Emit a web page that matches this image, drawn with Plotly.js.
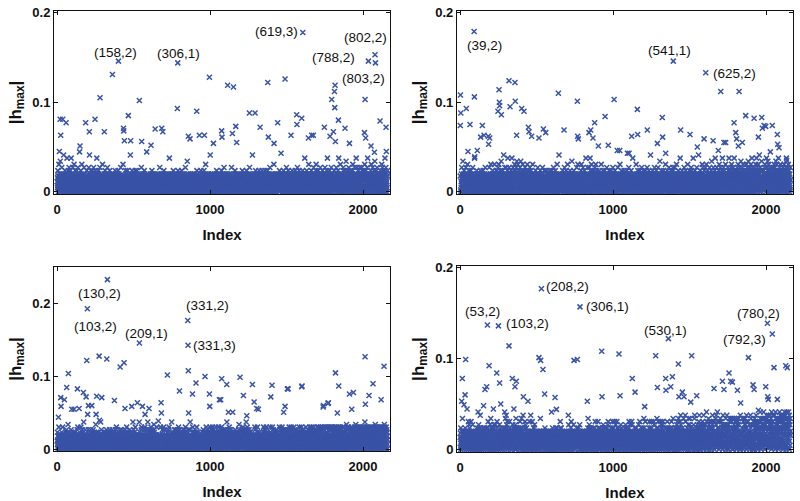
<!DOCTYPE html>
<html>
<head>
<meta charset="utf-8">
<script src="https://cdn.plot.ly/plotly-3.0.1.min.js"></script>
<style>html,body{margin:0;padding:0;background:#fff;}#chart{width:800px;height:501px;}</style>
</head>
<body>
<div id="chart"></div>
<script>
// ---------------- DATA ----------------
// Dense band of |h_max| per index, one character per index (base-36 code):
// '0'-'9' -> code * BAND_STEP ; 'a'.. -> HALO_BASE + (code - 9) * HALO_STEP
const BAND_STEP = 0.0022;
const HALO_BASE = 0.02;
const HALO_STEP = 0.0035;
const p1Band = [
"5273a814062c58371962d064827315b72904a56381f406925738a1604829",
"4617e0359281a73604b5827193a0546e281739058b26417093c5281064a7",
"2083517a6409381b2756048913g7250638a147296c30581742906381b527",
"7140629385162a047831590274b6381f52064719a083625147a8306295b1",
"3806152749a60382517e0496283157a04926183b5720641839052716c483",
"0527381469250a73816204958371b62048157306924a8153620748159360",
"6182047395817302649a581603749250817364a0258193706428153b0627",
"1739504826c0471825396048157a36920481735a062819473506182947f0",
"8250714639a8207153946082713549a8061937250a846139720581634701",
"4961028357b160847392058146937a029584631708254g19306827154360",
"2074815369308175624a90731684250936147082b5370419625803841795",
"5316092847b06251384720963815407269381a5042718630594162738019",
"0847261593702e4836105279483061724958306a21749360587129403652",
"6290514837a4179350628417360925814a730691528406371952048316b7",
"3518072649d1508327496013742506891352740613895720463185940271",
"9043716258106a8294730516283749106528374a1905638271940685326a",
"1726038495c26710483592617403859261047385f0163927485016392758",
"4180657293058147263950a1846370295148037265910382746158a04739",
"7359108462b93701528647019536281740b592638107429516830572946b",
"0638295174628305917463a0851729403681527049361825074193628405",
"2591740368a17042859631805274936105827a4931605827349061728b53",
"8406329157038162f47250693817025946183a702539481602739548160a",
"5172603948461027395a826013794850261739a5084617203958462a7031",
"3920481576b0538261749370285136490158c27340691528734061952847",
"6047193825718a0362549170836251904837265a193840726153094827b6",
"1853027649a3961850274316095827314806a2957318406925173084a629",
"7294610358b4706285193a0617482950372619480537a1629840517362e8",
"0516837294a8260153947286c1503947261830594a27186035927416b385",
"4739205186a1c9362708153924a7061835290746b1825396017428a35960",
"2685140937b5091726483a5093e1627408539162a7083519264b07381592",
"9370526184a6c80241937586b2093857162a4038e5917264805c31927406",
"1548372960b3a7150826493a0715d28493601748a5293b06817245930a61",
"6203918547a9c1406358271b9304627581e3094b72610583a49260731b58",
"3819054726b0a4918273605a293847c1506289a4730516b82e0461739258",
"7051682394a28c3705164b928407315a6920d417385062a935b184702695",
"4926307185b61a0395278c4016b293a758104627a3e90581b7246305928a"
].join('');
const p2Band = [
"83a1605294b7260381d5947203a8615729403b6815270946c28153740a96",
"2746193058a16273840591b73605284917e3052681493705a62819047352",
"5082736149027a5819364082715936a0482175936081b425730691846273",
"1639482705b8150629374c81602573948a0261739582c0417359260a8163",
"7a5206183b49c1725839604a2718d53092647a185203f9641728b3506197",
"4b8193605a27e4160835b27490c61835a27049e1825306b9471a2650c839",
"06a3718b295d40617c2853a90472618b3590d2741a6083519c27406a5813",
"9261b470385a2196083c7415269a04738261b590473a6182503947c06281",
"3750816294072a5183694072615b8304927516380429a1573608241957b3",
"6194037258a30617284953026a1749385160247395816a2703849516274a",
"2857160394b82614037592a06183749205c61837450291f3857026193845",
"0463729185a19403862750b8173625049a17385902c647182590361472a8",
"5318046297d628519407362a81593740268315970b46138250c739461825",
"7920584163a0c6318725904b27615390a482736501e968423715b0597382",
"4176b3052e97a16834c2590a7361f8249053a1872b6504c937182a065493",
"8035271649a52807193648c0271594836a02591736480a271953846025b7",
"1649382705846a3051927483065a1927384065b918273605942a81736052",
"3792510846b1736028495730c1846293578a1603948257016394a8205713",
"5028647193a40851627394b80621735498026a3719548206e17392046158",
"9614073528c2958371604a2957136048251a9837260415b92837450619a2",
"2480519637a71625390481b7365920481a5736902841f6730258149367a0",
"6137295804b18264075392a7160485392b06148275930d6172843905a627",
"0853714692a39506281746c0293571846a20593817460b28573916042a85",
"4271063859b6a2095718364b1927503846c19273580461a92705836149e2",
"7395842016a4817305296184b730295648a150837261940c6285173049a6",
"1526038794b0a6157283941e6027384519a36082714953b06281573940f8",
"5840731962a58307164295c84b7031652946a178203b59641c7830261a94",
"3062918475b0729185364a70d2961384750b29468301a75e294068137b52",
"9174520638a19c7205836b4172905a8361e4027395b816a4739021c65843",
"2605839147b4a1906e3752084a9162b385c0472961a35b08274e1963a057",
"8317402596a6b0827c3914a5628b7039461d5287a3096b4185c2739a0614",
"4925163780c3a8195b26047d1a3958260b7314a9c268530e71b4928a3605",
"0681b4729a5c31806e247a9b5316c0824a7f93105b62a84730d9152b6a47",
"7539a2061b84c5327a9106e4b2836a1d5709c4283b61a05g3927a1b84063",
"2148b9637a05c2718b4936a2d0571c84962b3a70e15842a9b0637c14582a",
"6a93507182b4a6195c3824a0716b9352e8461a7039b52c6184a7305921b6"
].join('');
const p3Band = [
"5a361528207c49531836207b958461a3092c7548016039927518400a6392",
"5b2706a9384d1627805937841682075b3968a14027597831694a0295768a",
"1847396302b5186c4279203518846902073c5198640b2a7361950e827134",
"7260b958341460628517931b408690251738840b961205073a89164b2805",
"3958a2671047d9361a82450739a461802705b9356841e2057b9684310947",
"8a0137562594801a730259b6814a7392406a1583947b2605a9381846702b",
"4619a28305572941a36805b2947c16305859284716309a4825172b603a91",
"0b5283716a490295583716b2048a937561c0358294670158a39624b43075",
"6283a9150476362e8015b9427a3610c9825347830916a52840790631e924",
"2a7596038b1c4368279051361846092b7c5320186924b5a73068e1924357",
"9041b735362a8c0195b47326a09815b3d74a269081536794602c91385374",
"3b7462085941183c72690358413b9627405c8134b9267705381924126037",
"7518a3b6092c4071559382640170e89352a60184709532b061a8394b5203",
"1a9462b5087a3c1694b8052273698419023785936a1b4079528a3b6104c9",
"8354a09917526358b0194362735b8e0941162733058a96c214a8037590a4",
"6a0793928514c9a6307012a859463307152835945362180267594a3b1628",
"2947a1960835a7c2490b615a38498207a613589c04a8162b73940548c1a6",
"5b18362904721a538c3069a4127858309a6c24137a58036914a2b7c05938",
"0362b9a7145a800b62931a4795806e392a4b17605a38c91b2046a7b53819",
"7a4851929036a761405928a3b6807194a52886309a7142b5d80364918472",
"4b920a638517b4c26093a8b5147a60392b8e1a4705c936b12a8407b5a391",
"9157a3504862901657304489266a7150c3b948256175303a9c81426a0735",
"3a8706251947735589026614739a5c0826b1a9473b5302c6819427a35216",
"62294750158c3a6997204158b3c69247b0145a96836270a5194b26847305",
"1a76308859244c9b17360058b2a49c7631b085829a3b7146105ba3928640",
"83305a9b27614408c3a952b761400c39288b57164a03928c5a1b76045927",
"2b6a841389507a52634a81c09583a76240a9c15386b724a0973b58176248",
"5a9362c0681447a39502b861a4763a9c052886b14c7392a5b0816c359024",
"0a784b1a9365b28304c713a19685c2b08a493711c6a5028b3984c61705a2",
"7b442c93580061c47a39928a5c6033a7419b2c85306b73c29148b5c06357",
"3c8a5b1607a2994c3836b0517c2a9b46830c5b17a2946b8c3a0511a74926",
"9a613c270588a14c6922a3075881a46d92007c35b8144c6029b3a7818536",
"4b2c7a9036a5b1384a7b2905c3a6818d4a067c529a3b6c1438027b9c5a36",
"1a8c5b3a0697b2a4c8355a170c9b266e4b81a3c50799236c4b18a3705c92",
"6b3a9c1705a4832c6a339017c5a2884c6a0b3a9d7c1534a26c8b3a0597a1",
"2c764a8306b39c5137b2c4a8063b9a5c1792a4d8c06a3b9152c7a4b0a836"
].join('');
const p4Band = [
"6183a0529472618d52399427160395852a74061935082g47163935c806b4",
"3a791522608c413961725b0684239170520682433719065268a391947f05",
"9b24a658031e7a59264008137152964a0h381795a239406813a795268304",
"0a5c8329799135640b85d2a701930614a8352g70b3a981654218b0763127",
"7c2a9142061835587b219604a615838275590944216a3722815f90a4d162",
"4e81b3a7c25902694381172c3a958036422811471305b9a6294g1867a320",
"2b9a5d0c8316a1742992528a3606271c4a9265883d0a6617942e9a508530",
"8a36c1b2574095a3676291866143903512c847014e609355828c7194806a",
"5172a9b3506481427759938056418471205093611864d722059358316427",
"184995037362c9a4180566372490415028537269094185330263904 71f58".replace(' ', ''),
"9306a2748310590365281437a905366182a4879035561822477930c5a164",
"4a782096131856477062936188540470293653188504712e6b9813205749",
"2860a5c73119492230865b371149828065543871942a8603361957a40826",
"7b3c90551487642087359514982260073519885442059633781582a4d093",
"0519b8a3627140a5119828743600594a176826300a5c4971728303649485",
"6c24a71305983a6524074199353821640a4b9173a582806411a973325088",
"3a8507b2c4691436086552749a68103827a5c941630a388527c419096b27",
"8194c6a0537520a934217361248059b401a7362999058433217628905a44",
"5b60392a18847559096342a4c8172b05961348177c2b5a09366184270260",
"2a7c1588940a633227199358640b263721c958802436a37190045a288461",
"9d4a362705c61883496307215416998048a7c325156a930743c8a2815369",
"4073c891b526990543781385a2d906367a4c1568293061394718c2b5a093",
"7a1b6c390564628872166a3904554827a1c693054b8a517266593a084128",
"1c5a85630293d7448195830a9660284617a5b9308c652a4d7110593a8c61",
"6e2b9015347305a836129d204738511e0c1963922947a308105b1d649872",
"3b8d5a017219644892310159a8b2671d4e9630580782a6c174b7390a5381",
"8c4e1a9b600235729a58b461c6a9403e7b245a844916b95320f5c8923761",
"5a2d790b468c1a6635825c0a7129b4e6a1c845839035729c2d4b6e118135",
"1f4a8c2269950a3c74511d8482c619b3a70035e8b2a6d4317943b7a5d023",
"7b3e9a18538023b6a024d7c31955118d2c6a46077d3091a541b852d6a4c9",
"4c8a226d0b3171a5c961d4b83620210e3a785194148a4d23620c36719d5b",
"9a5d1b7235c0e8a43682c915e11743b850147e6a2d9b5316723082d0b4c6",
"2e6b0d4a8c1925e9b357a2c6107b86441a5c92317f2d6a0c488b1d539a36",
"6d1f5b9a367c0d4b8523a6e1c5d913071a0e4c822b651a5e9c3d7b0f4a82",
"0b7c3e921a5d862e614a0f7d3b951c5a8f2d6b420c7a3d9f185e8c2a6d43",
"3a9e5c1b734d0a8e2c6b9f3d7a1e520b8d4f2a669c3b7d1f5a0e4c8b2d97"
].join('');

// Isolated larger values: index and |h_max|
const p1OutIdx = [401,362,281,789,1606,2078,2035,2081,996,1115,1153,1377,1490,1817,1813,1795,1815,2013,538,466,786,913,1257,1294,1566,1599,1839,2111,2150,20,37,59,24,15,187,248,211,309,434,436,440,481,553,641,684,691,614,1076,1078,1146,1168,1174,1022,858,869,930,963,1327,1381,1418,1442,1464,1529,1568,1643,1664,1675,1747,1784,1806,1819,1882,1911,2009,2017,2052,2074,2152,150];
const p1OutVal = [0.146,0.131,0.105,0.144,0.178,0.153,0.146,0.144,0.128,0.119,0.117,0.122,0.126,0.119,0.112,0.103,0.094,0.103,0.102,0.085,0.093,0.090,0.088,0.088,0.086,0.082,0.080,0.079,0.072,0.081,0.081,0.077,0.063,0.045,0.077,0.081,0.067,0.067,0.071,0.068,0.057,0.057,0.056,0.070,0.071,0.067,0.052,0.068,0.061,0.065,0.073,0.055,0.054,0.062,0.059,0.063,0.063,0.072,0.061,0.054,0.077,0.043,0.063,0.075,0.060,0.063,0.063,0.072,0.062,0.067,0.056,0.071,0.054,0.066,0.060,0.051,0.044,0.045,0.051];

const p2OutIdx = [92,1394,1606,1704,1824,3,94,5,41,2,65,52,96,113,146,135,157,185,194,187,255,257,259,248,270,320,359,327,361,370,403,418,447,451,468,516,545,560,643,680,767,769,773,854,843,880,869,904,948,969,1007,1028,1044,1094,1105,1122,1159,1161,1224,1290,1322,1324,1344,1442,1503,1551,1595,1654,1688,1725,1736,1791,1802,1808,1819,1845,1867,1922,1950,1972,1976,1987,1998,2041,2074,2076,2085,2135];
const p2OutVal = [0.179,0.146,0.133,0.112,0.112,0.108,0.106,0.088,0.093,0.074,0.075,0.045,0.039,0.046,0.074,0.061,0.063,0.062,0.060,0.053,0.114,0.100,0.096,0.090,0.086,0.124,0.122,0.095,0.101,0.063,0.093,0.090,0.072,0.067,0.062,0.060,0.070,0.066,0.110,0.069,0.101,0.062,0.059,0.069,0.066,0.077,0.060,0.051,0.084,0.052,0.103,0.046,0.046,0.043,0.043,0.062,0.092,0.064,0.069,0.054,0.083,0.061,0.043,0.069,0.064,0.050,0.059,0.057,0.046,0.055,0.055,0.077,0.066,0.059,0.051,0.055,0.085,0.082,0.061,0.083,0.071,0.074,0.073,0.074,0.064,0.053,0.049,0.035];

const p3OutIdx = [329,198,538,854,856,194,275,325,412,438,74,63,24,48,26,9,133,172,190,205,227,96,111,144,200,259,292,255,277,375,444,488,525,558,575,601,680,682,662,721,800,858,860,885,908,967,996,998,1061,1070,1076,1109,1120,1148,1196,1218,1240,1277,1288,1305,1316,1405,1397,1490,1505,1599,1481,1741,1773,1820,1841,1911,1937,1926,1832,2013,2137,2065,2039,2118,2015,1510,1601,1739,1771];
const p3OutVal = [0.233,0.193,0.146,0.177,0.143,0.122,0.128,0.124,0.113,0.119,0.104,0.085,0.071,0.068,0.059,0.044,0.083,0.078,0.072,0.060,0.060,0.055,0.055,0.056,0.048,0.073,0.071,0.048,0.040,0.067,0.056,0.059,0.064,0.059,0.048,0.056,0.064,0.050,0.039,0.102,0.080,0.108,0.050,0.076,0.091,0.100,0.076,0.059,0.068,0.068,0.097,0.089,0.051,0.051,0.099,0.074,0.046,0.089,0.065,0.056,0.055,0.088,0.072,0.059,0.083,0.086,0.051,0.060,0.064,0.105,0.087,0.076,0.078,0.055,0.050,0.127,0.114,0.090,0.074,0.068,0.062,0.083,0.087,0.058,0.063];

const p4OutIdx = [532,784,179,251,320,1362,2009,2041,37,15,190,240,259,266,163,174,33,11,26,342,359,368,414,444,516,527,542,553,621,630,745,767,832,926,928,1039,1046,1144,1126,1207,1279,1290,1344,1346,1388,1377,1427,1431,1453,1464,1514,1547,1508,1660,1715,1725,1758,1769,1780,1813,1834,1885,1915,1922,1950,1998,2011,2015,2052,2074,2129,2139];
const p4OutVal = [0.177,0.157,0.137,0.136,0.114,0.122,0.139,0.127,0.099,0.078,0.092,0.084,0.073,0.050,0.066,0.069,0.060,0.053,0.049,0.078,0.069,0.075,0.058,0.053,0.101,0.098,0.088,0.061,0.057,0.044,0.098,0.099,0.053,0.108,0.058,0.105,0.059,0.063,0.078,0.047,0.103,0.068,0.078,0.065,0.080,0.069,0.094,0.058,0.063,0.058,0.103,0.059,0.052,0.067,0.075,0.066,0.084,0.075,0.074,0.065,0.051,0.101,0.071,0.066,0.043,0.069,0.058,0.055,0.090,0.055,0.092,0.090];

const xTicks = [0, 1000, 2000];
const yTicksTop = [0, 0.1, 0.2];
const yTicksBottomLeft = [0, 0.1, 0.2];
const yTicksBottomRight = [0, 0.1, 0.2];
const xTitle = 'Index';
const yTitle = '|h<sub>max</sub>|';

// ---------------- BUILD ----------------
function decode(c) {
  const n = parseInt(c, 36);
  return n <= 9 ? n * BAND_STEP : HALO_BASE + (n - 9) * HALO_STEP;
}
function series(band, idx, val) {
  const y = band.split('').map(decode);
  idx.forEach((k, i) => { y[k - 1] = val[i]; });
  const x = y.map((_, i) => i + 1);
  return {x: x, y: y};
}
const BLUE = '#3953a6';
const FONT = 'Liberation Sans, Arial, Helvetica, sans-serif';
function trace(s, xa, ya) {
  return {
    type: 'scatter', mode: 'markers', x: s.x, y: s.y, xaxis: xa, yaxis: ya,
    marker: {symbol: 'x-thin', size: 5, color: BLUE, line: {width: 1.5, color: BLUE}},
    hoverinfo: 'skip', cliponaxis: true
  };
}
const s1 = series(p1Band, p1OutIdx, p1OutVal);
const s2 = series(p2Band, p2OutIdx, p2OutVal);
const s3 = series(p3Band, p3OutIdx, p3OutVal);
const s4 = series(p4Band, p4OutIdx, p4OutVal);

const data = [trace(s1, 'x', 'y'), trace(s2, 'x2', 'y2'), trace(s3, 'x3', 'y3'), trace(s4, 'x4', 'y4')];

const tickFont = {family: FONT, size: 13, color: '#111', weight: 'bold'};
function xAxis(dom, anchor) {
  return {
    domain: dom, anchor: anchor, range: [-20, 2176], tickvals: xTicks, ticktext: xTicks.map(String),
    ticks: 'inside', ticklen: 4, tickwidth: 1, tickcolor: '#111', mirror: 'ticks',
    showline: true, linecolor: '#111', linewidth: 1, showgrid: false, zeroline: false,
    tickfont: tickFont, ticklabelstandoff: 3,
    title: {text: xTitle, font: {family: FONT, size: 15, color: '#111', weight: 'bold'}, standoff: 13}
  };
}
function yAxis(dom, anchor, range, ticks) {
  return {
    domain: dom, anchor: anchor, range: range, tickvals: ticks, ticktext: ticks.map(String),
    ticks: 'inside', ticklen: 4, tickwidth: 1, tickcolor: '#111', mirror: 'ticks',
    showline: true, linecolor: '#111', linewidth: 1, showgrid: false, zeroline: false,
    tickfont: tickFont,
    title: {text: yTitle, font: {family: FONT, size: 17, color: '#111', weight: 'bold'}, standoff: 6}
  };
}
const annFont = {family: FONT, size: 13.5, color: '#111'};
function ann(text, x, y, xr, yr) {
  return {text: text, x: x, y: y, xref: xr, yref: yr, showarrow: false, font: annFont, xanchor: 'center', yanchor: 'middle'};
}
const layout = {
  width: 800, height: 501, margin: {l: 0, r: 0, t: 0, b: 0},
  paper_bgcolor: '#fff', plot_bgcolor: '#fff', showlegend: false,
  font: {family: FONT, color: '#111'},
  xaxis: xAxis([0.0675, 0.4875], 'y'),
  yaxis: yAxis([0.6128, 0.978], 'x', [-0.0026, 0.202], yTicksTop),
  xaxis2: xAxis([0.5712, 0.9912], 'y2'),
  yaxis2: yAxis([0.6128, 0.978], 'x2', [-0.0026, 0.202], yTicksTop),
  xaxis3: xAxis([0.0675, 0.4875], 'y3'),
  yaxis3: yAxis([0.0998, 0.4671], 'x3', [-0.0023, 0.2504], yTicksBottomLeft),
  xaxis4: xAxis([0.5712, 0.9912], 'y4'),
  yaxis4: yAxis([0.0978, 0.469], 'x4', [-0.003, 0.202], yTicksBottomRight),
  annotations: [
    ann('(158,2)', 379, 0.156, 'x', 'y'),
    ann('(306,1)', 793, 0.155, 'x', 'y'),
    ann('(619,3)', 1436, 0.179, 'x', 'y'),
    ann('(802,2)', 2013, 0.172, 'x', 'y'),
    ann('(788,2)', 1804, 0.150, 'x', 'y'),
    ann('(803,2)', 2000, 0.126, 'x', 'y'),
    ann('(39,2)', 163, 0.164, 'x2', 'y2'),
    ann('(541,1)', 1370, 0.158, 'x2', 'y2'),
    ann('(625,2)', 1791, 0.132, 'x2', 'y2'),
    ann('(130,2)', 277, 0.214, 'x3', 'y3'),
    ann('(103,2)', 248, 0.169, 'x3', 'y3'),
    ann('(209,1)', 586, 0.159, 'x3', 'y3'),
    ann('(331,2)', 983, 0.198, 'x3', 'y3'),
    ann('(331,3)', 1026, 0.142, 'x3', 'y3'),
    ann('(208,2)', 702, 0.179, 'x4', 'y4'),
    ann('(306,1)', 963, 0.157, 'x4', 'y4'),
    ann('(53,2)', 146, 0.152, 'x4', 'y4'),
    ann('(103,2)', 440, 0.139, 'x4', 'y4'),
    ann('(530,1)', 1340, 0.131, 'x4', 'y4'),
    ann('(780,2)', 1950, 0.150, 'x4', 'y4'),
    ann('(792,3)', 1856, 0.121, 'x4', 'y4')
  ]
};
Plotly.newPlot('chart', data, layout, {staticPlot: true, displayModeBar: false});
</script>
</body>
</html>
